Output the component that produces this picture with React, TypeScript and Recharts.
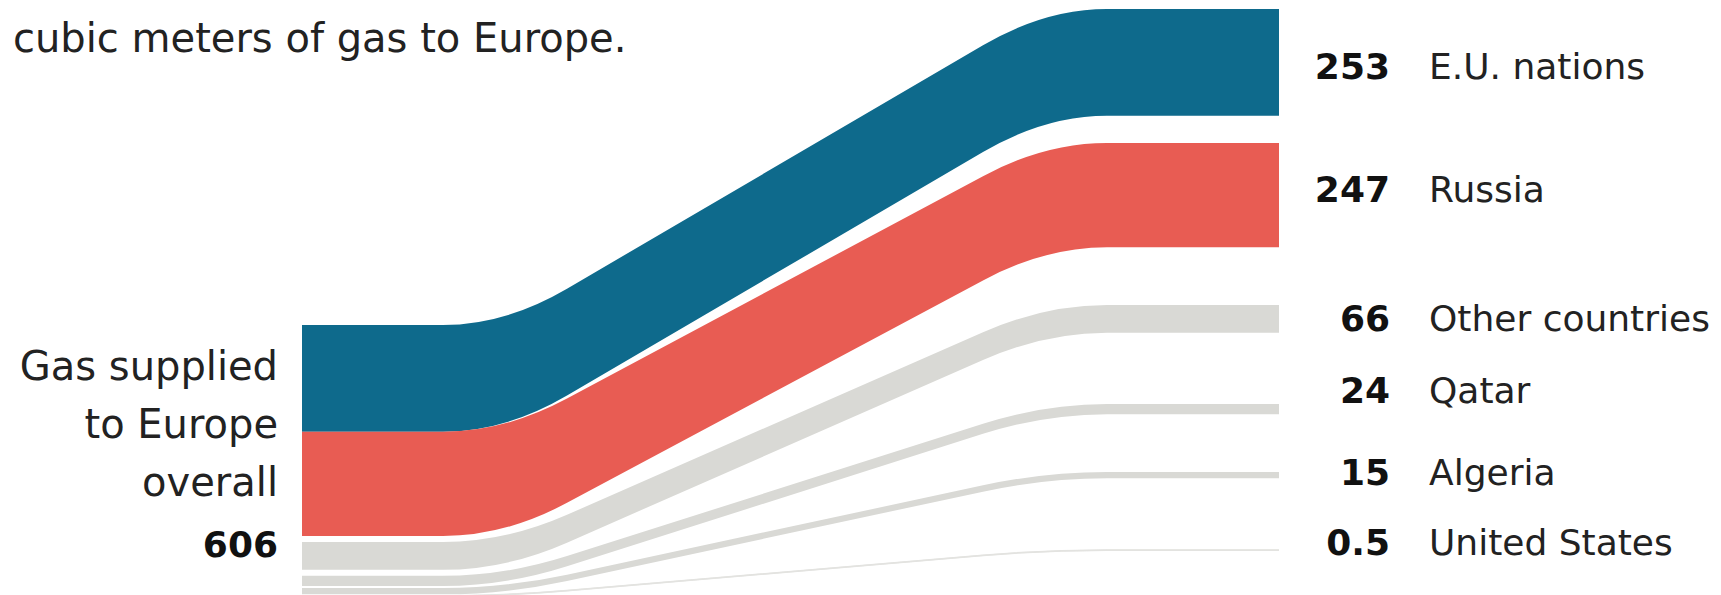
import React from 'react';
import { AreaChart, Area, XAxis, YAxis } from 'recharts';

// Gas supplied to Europe, billion cubic meters
const sources = ['E.U. nations', 'Russia', 'Other countries', 'Qatar', 'Algeria', 'United States'];
const supplied = [253, 247, 66, 24, 15, 0.5];
const suppliedLabels = ['253', '247', '66', '24', '15', '0.5'];
const totalSupplied = 606;
const totalLabelLines = ['Gas supplied', 'to Europe', 'overall'];

const colors = ['#0e6a8c', '#e85c53', '#d9d9d5', '#d9d9d5', '#d9d9d5', '#e3e3e0'];

// layout
const W = 1721;
const H = 595;
const PX_PER_BCM = 0.422;
const Y_SPAN = H / PX_PER_BCM;
const STAGE_X = [302, 505, 1045, 1279]; // source edge, bend start, bend end, target edge
const LEFT_TOP = 325 / PX_PER_BCM;
const LEFT_GAPS = [0, 6, 6, 2, 1.5].map((px) => px / PX_PER_BCM);
const RIGHT_TOPS = [9, 143, 305, 404, 472, 550].map((px) => px / PX_PER_BCM);
const LABEL_BASELINES = [79, 202, 331, 403, 485, 555];
const FONT = "'DejaVu Sans', sans-serif";

// stack the bands on the left, spread them out on the right
const leftTops: number[] = [];
let cursor = LEFT_TOP;
supplied.forEach((v, i) => {
  leftTops.push(cursor);
  cursor += v + (LEFT_GAPS[i] ?? 0);
});

const rows = STAGE_X.map((x, stage) => {
  const row: Record<string, number | number[]> = { x };
  supplied.forEach((v, i) => {
    const top = stage < 2 ? leftTops[i] : RIGHT_TOPS[i];
    row[`band${i}`] = [top + v, top];
  });
  return row;
});

// polyline with rounded corners, used as a d3-style curve factory
const roundedFlow = (radius: number) => (context: any) => {
  let pts: [number, number][] = [];
  let line = NaN;
  const draw = () => {
    const n = pts.length;
    pts.forEach(([x, y], i) => {
      if (i === 0) {
        if (line) context.lineTo(x, y);
        else context.moveTo(x, y);
        return;
      }
      const [px, py] = pts[i - 1];
      if (i === n - 1 || x === px) {
        context.lineTo(x, y);
        return;
      }
      const [nx, ny] = pts[i + 1];
      const dirIn = Math.sign(x - px);
      const dirOut = Math.sign(nx - x);
      const sIn = (y - py) / (x - px);
      const sOut = (ny - y) / (nx - x);
      context.lineTo(x - dirIn * radius, y - dirIn * radius * sIn);
      context.quadraticCurveTo(x, y, x + dirOut * radius, y + dirOut * radius * sOut);
    });
  };
  return {
    areaStart() {
      line = 0;
    },
    areaEnd() {
      line = NaN;
    },
    lineStart() {
      pts = [];
    },
    lineEnd() {
      draw();
      if (line) context.closePath();
      line = 1 - line;
    },
    point(x: number, y: number) {
      pts.push([+x, +y]);
    },
  };
};

const flowCurve = roundedFlow(62);

const App = () => {
  return (
    <div style={{ position: 'relative', width: W, height: H, background: '#fff', overflow: 'hidden' }}>
      <style>{'body{margin:0}'}</style>
      <AreaChart width={W} height={H} data={rows} margin={{ top: 0, right: 0, bottom: 0, left: 0 }}>
        <XAxis type="number" dataKey="x" domain={[0, W]} hide allowDataOverflow />
        <YAxis type="number" domain={[0, Y_SPAN]} reversed hide allowDataOverflow />
        {supplied.map((_, i) => (
          <Area
            key={sources[i]}
            dataKey={`band${i}`}
            type={flowCurve as any}
            fill={colors[i]}
            fillOpacity={1}
            stroke={i === supplied.length - 1 ? colors[i] : 'none'}
            strokeWidth={1.5}
            dot={false}
            activeDot={false}
            isAnimationActive={false}
          />
        ))}
      </AreaChart>
      <svg width={W} height={H} style={{ position: 'absolute', left: 0, top: 0 }}>
        <text x={13} y={52} fontFamily={FONT} fontSize={40} fill="#222">
          cubic meters of gas to Europe.
        </text>
        {totalLabelLines.map((t, i) => (
          <text key={t} x={278} y={380 + i * 58} textAnchor="end" fontFamily={FONT} fontSize={40} fill="#222">
            {t}
          </text>
        ))}
        <text x={278} y={557} textAnchor="end" fontFamily={FONT} fontSize={36} fontWeight="bold" fill="#111">
          {totalSupplied}
        </text>
        {sources.map((name, i) => (
          <g key={name}>
            <text x={1390} y={LABEL_BASELINES[i]} textAnchor="end" fontFamily={FONT} fontSize={36} fontWeight="bold" fill="#111">
              {suppliedLabels[i]}
            </text>
            <text x={1429} y={LABEL_BASELINES[i]} fontFamily={FONT} fontSize={36} fill="#222">
              {name}
            </text>
          </g>
        ))}
      </svg>
    </div>
  );
};

export default App;
